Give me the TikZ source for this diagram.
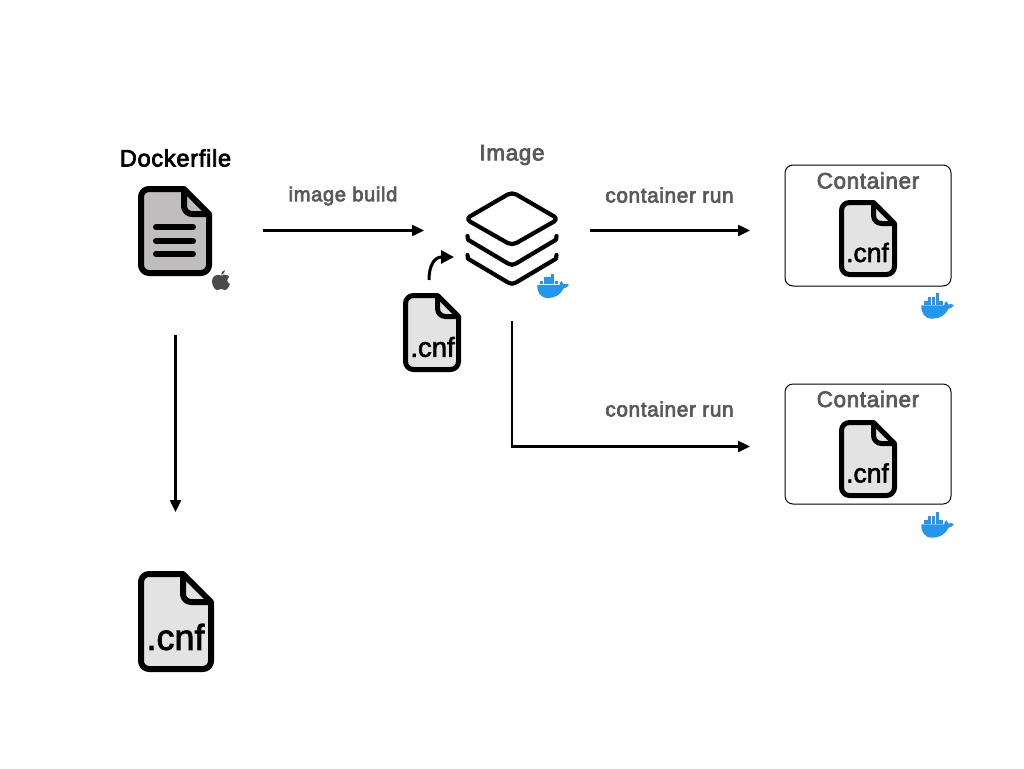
\documentclass[tikz,border=0pt]{standalone}
\usepackage{fontspec}
\setmainfont{Liberation Sans}
\newfontfamily\medfont[FakeBold=3.2,LetterSpace=3]{Liberation Sans}
\newfontfamily\cnffont[FakeBold=2.2]{Liberation Sans}
\usetikzlibrary{arrows.meta}
\definecolor{labelgray}{HTML}{595959}
\definecolor{docgray}{HTML}{BFBDBE}
\definecolor{cnfgray}{HTML}{E3E3E3}
\definecolor{whaleblue}{HTML}{2396ED}
\definecolor{applegray}{HTML}{4A4A4A}
\tikzset{
  flow/.style={line width=2.4pt,-{Triangle[length=12pt,width=11pt]}},
  lbl/.style={font=\medfont\fontsize{20.8}{22}\selectfont,text=labelgray,inner sep=0pt},
  ttl/.style={font=\medfont\fontsize{22.4}{24}\selectfont,text=labelgray,inner sep=0pt},
  filetext/.style={inner sep=0pt,text=black},
  box/.style={draw=black,line width=1pt,rounded corners=8pt,fill=white},
  layer/.style={draw=black,line width=4.2pt,line cap=round,line join=round},
  corner/.style={x radius=8pt,y radius=-8pt},
}
% #1 x, #2 y (top-left of stroke centre line), #3 w, #4 h, #5 fold, #6 fill, #7 line width
\newcommand{\fileicon}[7]{%
  \begin{scope}[shift={(#1,#2)}]
    \draw[black,line width=#7pt,fill=#6,line join=round]
      ({#3-#5},0) -- (#3,#5) -- (#3,{#4-8})
      arc[start angle=0,end angle=90,corner] -- (8,#4)
      arc[start angle=90,end angle=180,corner] -- (0,8)
      arc[start angle=180,end angle=270,corner] -- cycle;
    \draw[black,line width=#7pt,line join=round]
      ({#3-#5},0) -- ({#3-#5},{#5-8}) arc[start angle=180,end angle=90,corner] -- (#3,#5);
  \end{scope}}
\newcommand{\whale}[3]{%
  \begin{scope}[shift={(#1,#2)},scale=#3]
    \fill[whaleblue] (0.3,11) -- (22.5,11) .. controls (22.5,9.5) and (23,8) .. (24.5,7)
      .. controls (25.8,8) and (26.4,9) .. (26.6,10.2) .. controls (28.5,9.6) and (30.5,9.6) .. (32,10.8)
      .. controls (30.5,13.2) and (28.5,14.2) .. (26.8,14.2) .. controls (24,20.5) and (18,24) .. (11,24)
      .. controls (3.5,24) and (0,18.5) .. (0.3,11) -- cycle;
    \foreach \bx/\by in {3/6.9,6.7/6.9,10.4/6.9,14.1/6.9,17.8/6.9,6.7/3.2,10.4/3.2,14.1/3.2,14.1/-0.5}
      \fill[whaleblue] (\bx,\by) rectangle ++(3.3,3.3);
  \end{scope}}
\begin{document}
\begin{tikzpicture}[x=1pt,y=-1pt]
\useasboundingbox (0,0) rectangle (1024,768);
\fill[white] (0,0) rectangle (1024,768);

% containers
\node[box,minimum width=166pt,minimum height=121pt,inner sep=0pt] (boxA) at (868,225.5) {};
\node[box,minimum width=166pt,minimum height=120pt,inner sep=0pt] (boxB) at (868,444) {};

% titles
\node[font=\medfont\fontsize{23.6}{26}\selectfont,text=black,inner sep=0pt] (tDocker) at (175.5,158) {Dockerfile};
\node[ttl] (tImage) at (512,155) {Image};
\node[ttl] (tContA) at (868,180.5) {Container};
\node[ttl] (tContB) at (868,399) {Container};

% Dockerfile icon
\fileicon{141}{189}{68}{84}{25}{docgray}{6}
\node[inner sep=0pt,minimum width=74pt,minimum height=90pt] (docicon) at (175,231) {};
\foreach \ly in {227,241,254}
  \draw[black,line width=6pt,line cap=round] (156,\ly) -- (193,\ly);

% Apple logo
\begin{scope}[shift={(212,270)}]
  \fill[applegray] (9,5.5) .. controls (11,4.5) and (13,4.2) .. (15,5.2)
    .. controls (16.4,5.8) and (17,6.6) .. (17.2,7)
    .. controls (14.4,8.8) and (14.8,13) .. (18,14)
    .. controls (17,17) and (15,20) .. (13,20)
    .. controls (11.5,20) and (10.8,19) .. (9,19)
    .. controls (7.4,19) and (6.4,20) .. (5,20)
    .. controls (2.5,20) and (0,15) .. (0,11)
    .. controls (0,6) and (5,3.6) .. (9,5.5) -- cycle;
  \fill[applegray] (9,4.6) .. controls (9,2.4) and (11,0.4) .. (13,0.2)
    .. controls (13.2,2.6) and (11.2,4.6) .. (9,4.6) -- cycle;
\end{scope}
\node[inner sep=0pt,minimum size=19pt] (apple) at (221,280) {};

% layers icon
\draw[layer,rounded corners=5pt] (512,192) -- (558.5,219) -- (512,245.5) -- (465.5,219) -- cycle;
\node[inner sep=0pt,minimum width=92pt,minimum height=94pt] (layers) at (512,238) {};
\draw[layer] (467.5,236) .. controls (467,239) and (468,240) .. (471,241.5) -- (508,263.5)
  .. controls (511,265.2) and (513,265.2) .. (516,263.5) -- (553,241.5)
  .. controls (556,240) and (557,239) .. (556.5,236);
\draw[layer] (467.5,255) .. controls (467,258) and (468,259) .. (471,260.5) -- (508,282.5)
  .. controls (511,284.2) and (513,284.2) .. (516,282.5) -- (553,260.5)
  .. controls (556,259) and (557,258) .. (556.5,255);

% cnf icons
\fileicon{405.5}{295.5}{53}{74}{21}{cnfgray}{5}
\node[filetext,font=\cnffont\fontsize{27.5}{30}\selectfont] (cnfI) at (432.5,347) {.cnf};
\fileicon{841.5}{202.5}{53}{72}{21}{cnfgray}{5}
\node[filetext,font=\cnffont\fontsize{26.5}{29}\selectfont] (cnfA) at (867.5,252.5) {.cnf};
\fileicon{841.5}{422.5}{53}{73}{21}{cnfgray}{5}
\node[filetext,font=\cnffont\fontsize{26.5}{29}\selectfont] (cnfB) at (867.5,473) {.cnf};
\fileicon{141}{574}{70}{95}{28}{cnfgray}{6}
\node[filetext,font=\cnffont\fontsize{36}{38}\selectfont] (cnfL) at (175.5,637) {.cnf};

% whales
\whale{537}{274}{1}
\whale{921}{294}{1.03}
\whale{921}{513}{1.03}

% connector ends
\coordinate (a1) at (263,230.5);
\coordinate (a2) at (424,230.5);
\coordinate (b1) at (590,230.5);
\coordinate (b2) at (750,230.5);
\coordinate (c1) at (512,321);
\coordinate (c2) at (512,446.5);
\coordinate (c3) at (750,446.5);
\coordinate (d1) at (175.5,335);
\coordinate (d2) at (175.5,512);
\coordinate (e1) at (429,280);
\coordinate (e2) at (454,257);

\draw[flow] (a1) -- (a2);
\draw[flow] (b1) -- (b2);
\draw[flow,line join=miter] (c1) -- (c2) -- (c3);
\draw[flow] (d1) -- (d2);
\draw[line width=3pt,-{Triangle[length=13pt,width=13pt]}] (e1) .. controls (429,266) and (434,257) .. (e2);

% labels
\node[lbl,font=\medfont\fontsize{20.2}{22}\selectfont] (lBuild) at (343,196) {image build};
\node[lbl] (lRunA) at (669.5,195) {container run};
\node[lbl] (lRunB) at (669.5,409) {container run};
\end{tikzpicture}
\end{document}
